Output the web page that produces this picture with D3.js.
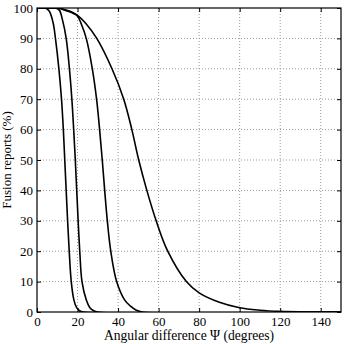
<!DOCTYPE html>
<html>
<head>
<meta charset="utf-8">
<script src="https://cdn.jsdelivr.net/npm/d3@7"></script>
<style>
  html, body { margin: 0; padding: 0; background: #fff; }
  svg { display: block; }
  text { font-family: "Liberation Serif", "Times New Roman", serif; }
</style>
</head>
<body>
<svg id="chart" width="345" height="344"></svg>
<script>
// ---- data ----
const xTicks = [0, 20, 40, 60, 80, 100, 120, 140];
const yTicks = [0, 10, 20, 30, 40, 50, 60, 70, 80, 90, 100];

const curve1X = [0, 2, 4, 6, 8, 9.1, 10.8, 12.1, 13.0, 13.7, 14.4, 15.1, 15.9, 16.9, 18.2, 19.5, 21, 23, 150];
const curve1Y = [100, 100, 100, 99, 95, 90, 80, 70, 60, 50, 40, 30, 20, 10, 4, 1.5, 0.4, 0, 0];

const curve2X = [0, 4, 9, 11, 12.6, 14.4, 16.0, 17.2, 18.1, 18.9, 19.6, 20.3, 21.1, 22.2, 24.3, 26, 28, 30, 150];
const curve2Y = [100, 100, 100, 99.3, 96, 90, 80, 70, 60, 50, 40, 30, 20, 10, 4, 1.5, 0.4, 0, 0];

const curve3X = [0, 5, 10, 12, 15, 18, 20, 22, 24.3, 27.3, 29.4, 30.9, 32.2, 33.4, 34.7, 36.4, 39.3, 43.2, 46, 49, 52, 150];
const curve3Y = [100, 100, 100, 99.7, 99, 98.2, 97.3, 94.5, 90, 80, 70, 60, 50, 40, 30, 20, 10, 4, 2, 0.6, 0, 0];

const curve4X = [0, 5, 11, 13, 16, 20, 24, 29.5, 37, 42.8, 46.8, 50.2, 54.2, 58.8, 64.5, 73.7, 80, 90, 100, 110, 120, 130, 150];
const curve4Y = [100, 100, 100, 99.6, 99, 97.6, 95, 90, 80, 70, 60, 50, 40, 30, 20, 10, 6.3, 3.2, 1.4, 0.6, 0.2, 0.05, 0];

const seriesList = [
  { x: curve1X, y: curve1Y },
  { x: curve2X, y: curve2Y },
  { x: curve3X, y: curve3Y },
  { x: curve4X, y: curve4Y }
];

// ---- layout ----
const svg = d3.select("#chart");
const mLeft = 37, mRight = 341, mTop = 8, mBottom = 312;

const x = d3.scaleLinear().domain([0, 150]).range([mLeft, mRight]);
const y = d3.scaleLinear().domain([0, 100]).range([mBottom, mTop]);

svg.append("defs").append("clipPath").attr("id", "plotclip")
  .append("rect").attr("x", mLeft).attr("y", mTop)
  .attr("width", mRight - mLeft).attr("height", mBottom - mTop);

// grid
const grid = svg.append("g");
grid.selectAll("line.vx").data(xTicks.filter(d => d > 0)).join("line")
  .attr("x1", d => x(d)).attr("x2", d => x(d))
  .attr("y1", mTop).attr("y2", mBottom)
  .attr("stroke", "#999").attr("stroke-width", 1).attr("stroke-dasharray", "1,2");
grid.selectAll("line.hy").data(yTicks.filter(d => d > 0 && d < 100)).join("line")
  .attr("x1", mLeft).attr("x2", mRight)
  .attr("y1", d => y(d)).attr("y2", d => y(d))
  .attr("stroke", "#999").attr("stroke-width", 1).attr("stroke-dasharray", "1,2");

// curves
const line = d3.line()
  .x((d) => x(d[0]))
  .y((d) => y(d[1]))
  .curve(d3.curveCatmullRom.alpha(0.5));

svg.append("g").attr("clip-path", "url(#plotclip)")
  .selectAll("path").data(seriesList).join("path")
  .attr("d", s => line(s.x.map((v, i) => [v, s.y[i]])))
  .attr("fill", "none")
  .attr("stroke", "#000")
  .attr("stroke-width", 1.6);

// axes
function styleAxis(g) {
  g.select(".domain").remove();
  g.selectAll(".tick line").attr("stroke", "#000").attr("stroke-width", 1);
  g.selectAll(".tick text").attr("font-family", "'Liberation Serif', 'Times New Roman', serif")
    .attr("font-size", 13).attr("fill", "#000");
}

svg.append("g").attr("transform", `translate(0,${mBottom})`)
  .call(d3.axisBottom(x).tickValues(xTicks).tickSize(-4).tickPadding(5).tickFormat(d3.format("d")))
  .call(styleAxis);
svg.append("g").attr("transform", `translate(0,${mTop})`)
  .call(d3.axisTop(x).tickValues(xTicks).tickSize(-4).tickFormat(""))
  .call(styleAxis);
svg.append("g").attr("transform", `translate(${mLeft},0)`)
  .call(d3.axisLeft(y).tickValues(yTicks).tickSize(-4).tickPadding(4).tickFormat(d3.format("d")))
  .call(styleAxis);
svg.append("g").attr("transform", `translate(${mRight},0)`)
  .call(d3.axisRight(y).tickValues(yTicks).tickSize(-4).tickFormat(""))
  .call(styleAxis);

// box
svg.append("rect")
  .attr("x", mLeft).attr("y", mTop)
  .attr("width", mRight - mLeft).attr("height", mBottom - mTop)
  .attr("fill", "none").attr("stroke", "#000").attr("stroke-width", 1.2);

// axis titles
svg.append("text")
  .attr("x", (mLeft + mRight) / 2).attr("y", 340)
  .attr("text-anchor", "middle").attr("font-size", 13.6)
  .text("Angular difference Ψ (degrees)");
svg.append("text")
  .attr("transform", `translate(11,${(mTop + mBottom) / 2}) rotate(-90)`)
  .attr("text-anchor", "middle").attr("font-size", 13)
  .text("Fusion reports (%)");
</script>
</body>
</html>
